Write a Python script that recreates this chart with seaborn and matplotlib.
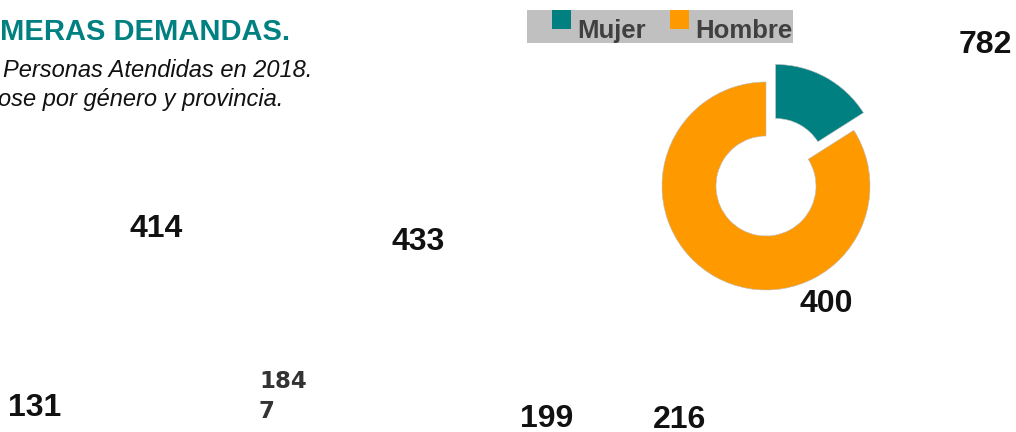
import matplotlib
matplotlib.use("Agg")
import matplotlib.pyplot as plt
from matplotlib.patches import Rectangle
import seaborn as sns

# datos
generos = ["Mujer", "Hombre"]
porcentajes = [16, 84]
colores = ["#008080", "#FF9900"]

cifras = ["414", "433", "131", "199", "216", "400", "782"]
# centro x / linea base y (px) de cada cifra
pos_cifras = [(156, 237), (418, 250), (35, 416), (547, 427),
              (680, 428), (826, 312), (985, 53)]
cifra_partida = ["184", "7"]
pos_partida = [(259, 388), (259, 418)]

titulo = "MERAS DEMANDAS."
subtitulo = ["Personas Atendidas en 2018.", "ose por género y provincia."]

sns.set_theme(style="white")
plt.rcParams["font.family"] = ["Liberation Sans", "DejaVu Sans"]

W, H = 1016, 432
fig = plt.figure(figsize=(W / 100, H / 100), dpi=100)
fig.patch.set_facecolor("white")


def fx(x):
    return x / W


def fy(y):
    return 1 - y / H


# titulo y subtitulo
fig.text(fx(0), fy(40), titulo, color="#008080", fontsize=21,
         fontweight="bold", ha="left", va="baseline")
fig.text(fx(312), fy(77), subtitulo[0], color="#111111", fontsize=17,
         style="italic", ha="right", va="baseline")
fig.text(fx(283), fy(106), subtitulo[1], color="#111111", fontsize=17,
         style="italic", ha="right", va="baseline")

# cifras por provincia
for txt, (x, y) in zip(cifras, pos_cifras):
    fig.text(fx(x), fy(y), txt, fontsize=23, fontweight="bold",
             color="#111111", ha="center", va="baseline")
for txt, (x, y) in zip(cifra_partida, pos_partida):
    fig.text(fx(x), fy(y), txt, fontsize=16.5, fontweight="bold",
             family="DejaVu Sans", color="#333333", ha="left", va="baseline")

# leyenda
fig.add_artist(Rectangle((fx(527), fy(43)), fx(266), 33 / H,
                         transform=fig.transFigure, facecolor="#c0c0c0",
                         edgecolor="none", zorder=0))
for nombre, col, xs, xt in zip(generos, colores, [552, 670], [577, 695]):
    fig.add_artist(Rectangle((fx(xs), fy(29)), fx(19), 19 / H,
                             transform=fig.transFigure, facecolor=col,
                             edgecolor="none", zorder=1))
    fig.text(fx(xt), fy(38), nombre, fontsize=18.5, fontweight="bold",
             color="#404040", ha="left", va="baseline")

# anillo
cx, cy, lado = 766, 186, 300
ax = fig.add_axes([fx(cx - lado / 2), fy(cy + lado / 2), fx(lado), lado / H])
ax.pie(porcentajes, colors=colores, startangle=90, counterclock=False,
       explode=[0.2, 0], radius=1.04,
       wedgeprops=dict(width=0.54, edgecolor="#bbbbbb", linewidth=0.4))
ax.set_xlim(-1.5, 1.5)
ax.set_ylim(-1.5, 1.5)
ax.set_aspect("equal")
ax.axis("off")

fig.savefig("out.png", dpi=100, facecolor="white")
